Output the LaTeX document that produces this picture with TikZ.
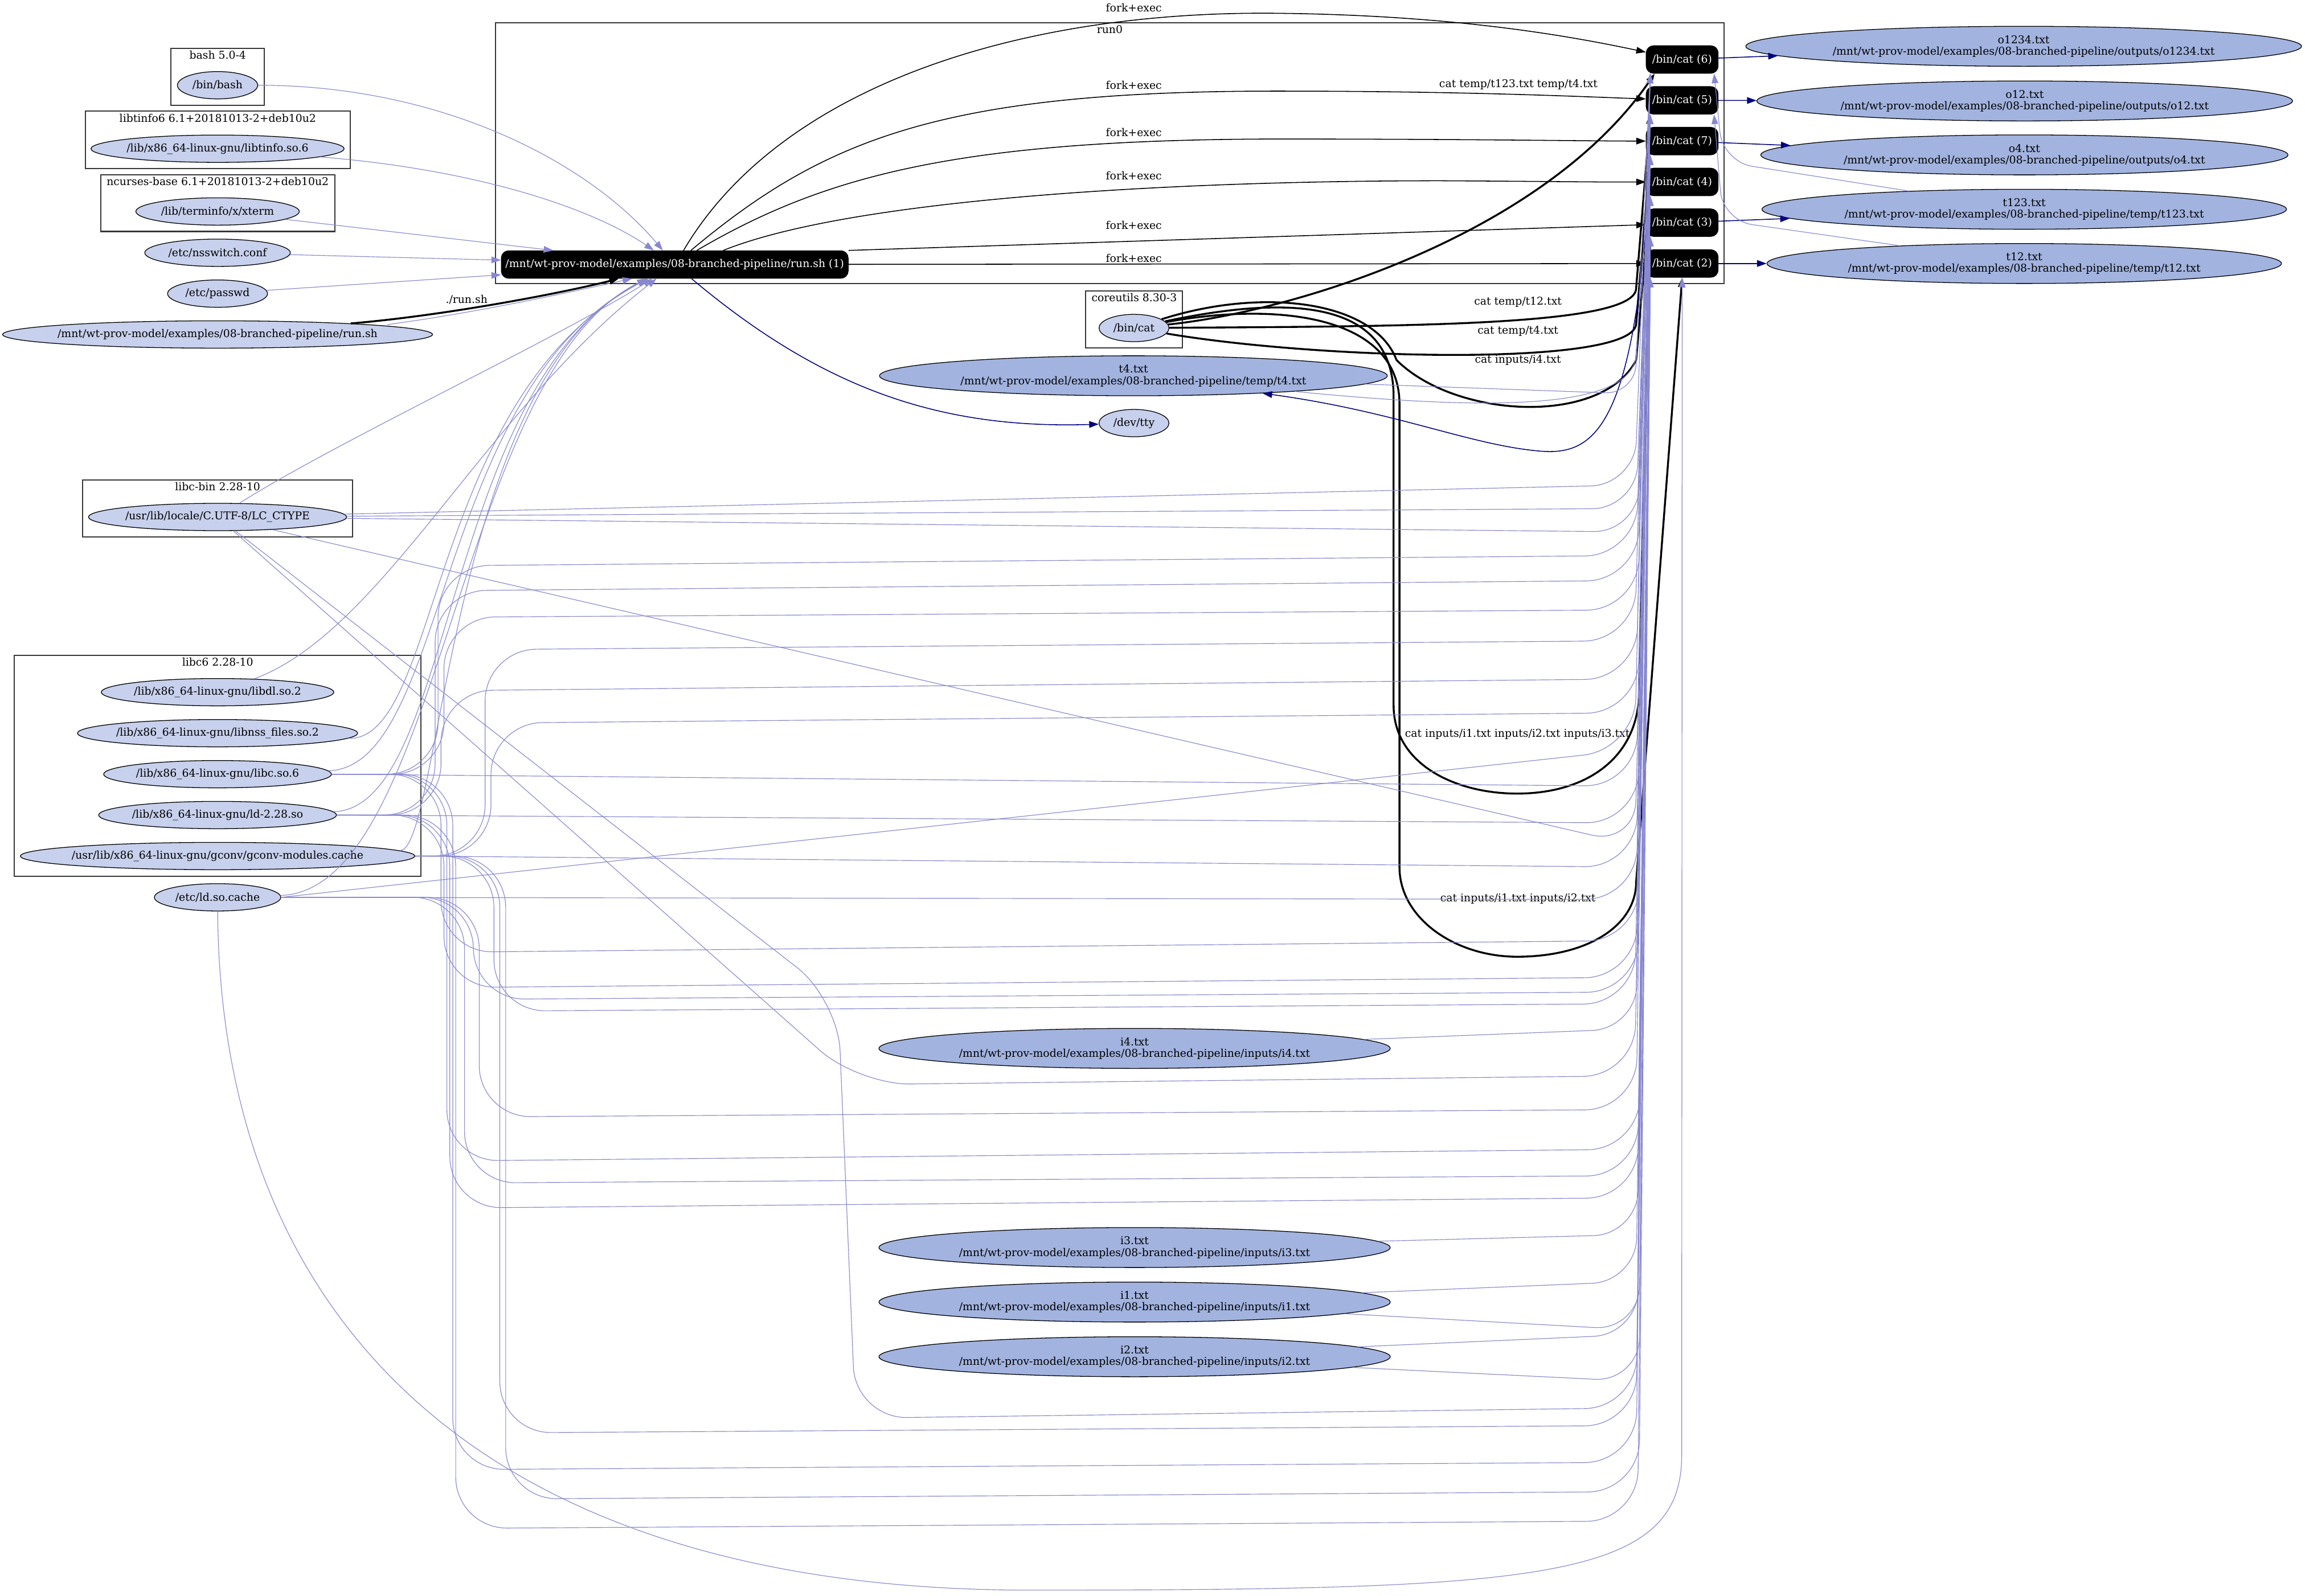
\documentclass[tikz,border=0pt]{standalone}
\usepackage{fontspec}
\setmainfont{DejaVu Serif}
\usepackage{xcolor}
\usepackage{tikz}
\usetikzlibrary{shapes.geometric, arrows.meta, positioning}
\definecolor{libblue}{RGB}{199,208,236}
\definecolor{fileblue}{RGB}{162,179,223}
\definecolor{useblue}{RGB}{136,136,208}
\definecolor{writenavy}{RGB}{0,0,128}
\definecolor{clustergray}{RGB}{55,55,55}
\newcommand{\gvfont}{\fontsize{7.3}{7.8}\selectfont}
\newcommand{\zw}[1]{\makebox[0pt]{#1}}
\tikzset{
  lib/.style={ellipse, draw, fill=libblue, inner sep=0pt, minimum height=18.6pt, line width=0.5pt, font=\gvfont},
  datafile/.style={ellipse, draw, fill=fileblue, inner sep=0pt, minimum height=27.2pt, line width=0.5pt, align=center, font=\gvfont},
  proc/.style={rectangle, rounded corners=5pt, draw=black, fill=black, text=white, inner sep=0pt, minimum width=49pt, minimum height=18.8pt, font=\gvfont},
  cluster/.style={rectangle, draw=clustergray, line width=0.8pt, inner sep=0pt},
  lbl/.style={inner sep=0pt, font=\gvfont},
  useedge/.style={draw=useblue, line width=0.45pt, -{Stealth[length=6.5pt, width=4.5pt, inset=0pt]}},
  writeedge/.style={draw=writenavy, line width=0.6pt, -{Stealth[length=6.5pt, width=4.5pt, inset=0pt]}},
  forkedge/.style={draw=black, line width=0.6pt, -{Stealth[length=6.5pt, width=4.5pt, inset=0pt]}},
  execedge/.style={draw=black, line width=1.3pt, -{Stealth[length=6.5pt, width=4.5pt, inset=0pt]}},
}
\begin{document}
\begin{tikzpicture}[x=1pt, y=-1pt]
\useasboundingbox (0,0) rectangle (1568,1086);
\node (run0box) [cluster, minimum width=835.8pt, minimum height=177.6pt] at (754.9,104.2) {};
\node (run0lbl) [lbl, below=2pt of run0box.north] {run0};
\node (bashbox) [cluster, minimum width=63.6pt, minimum height=38.9pt] at (148.1,52.35) {};
\node (bashlbl) [lbl, below=2pt of bashbox.north] {bash 5.0-4};
\node (tinfobox) [cluster, minimum width=179.9pt, minimum height=39.1pt] at (148.15,95.15) {};
\node (tinfolbl) [lbl, below=2pt of tinfobox.north] {libtinfo6 6.1+20181013-2+deb10u2};
\node (ncbox) [cluster, minimum width=159.4pt, minimum height=38.7pt] at (148.1,138.15) {};
\node (nclbl) [lbl, below=2pt of ncbox.north] {ncurses-base 6.1+20181013-2+deb10u2};
\node (corebox) [cluster, minimum width=65.9pt, minimum height=38.7pt] at (771.55,217.25) {};
\node (corelbl) [lbl, below=2pt of corebox.north] {coreutils 8.30-3};
\node (libcbinbox) [cluster, minimum width=183.5pt, minimum height=38.7pt] at (148.05,345.85) {};
\node (libcbinlbl) [lbl, below=2pt of libcbinbox.north] {libc-bin 2.28-10};
\node (libcsixbox) [cluster, minimum width=276.8pt, minimum height=150.3pt] at (148.1,521.05) {};
\node (libcsixlbl) [lbl, below=2pt of libcsixbox.north] {libc6 2.28-10};

\node (bash) [lib, minimum width=54.6pt] at (148,58) {\zw{/bin/bash}};
\node (tinfo) [lib, minimum width=172.2pt] at (148,101.2) {\zw{/lib/x86\_64-linux-gnu/libtinfo.so.6}};
\node (xterm) [lib, minimum width=111.2pt] at (148,143.9) {\zw{/lib/terminfo/x/xterm}};
\node (nss) [lib, minimum width=99pt] at (148,172) {\zw{/etc/nsswitch.conf}};
\node (passwd) [lib, minimum width=68pt] at (148,199.8) {\zw{/etc/passwd}};
\node (runfile) [lib, minimum width=292.4pt] at (148,227.6) {\zw{/mnt/wt-prov-model/examples/08-branched-pipeline/run.sh}};
\node (lctype) [lib, minimum width=175.6pt] at (148,351.8) {\zw{/usr/lib/locale/C.UTF-8/LC\_CTYPE}};
\node (libdl) [lib, minimum width=158.2pt] at (148,471) {\zw{/lib/x86\_64-linux-gnu/libdl.so.2}};
\node (libnss) [lib, minimum width=190.6pt] at (148,498.9) {\zw{/lib/x86\_64-linux-gnu/libnss\_files.so.2}};
\node (libc) [lib, minimum width=155pt] at (148,526.8) {\zw{/lib/x86\_64-linux-gnu/libc.so.6}};
\node (ld) [lib, minimum width=161.8pt] at (148,554.6) {\zw{/lib/x86\_64-linux-gnu/ld-2.28.so}};
\node (gconv) [lib, minimum width=268.4pt] at (148,582.5) {\zw{/usr/lib/x86\_64-linux-gnu/gconv/gconv-modules.cache}};
\node (ldcache) [lib, minimum width=86pt] at (148,610.6) {\zw{/etc/ld.so.cache}};
\node (bincat) [lib, minimum width=47.6pt] at (771.4,223.2) {\zw{/bin/cat}};
\node (tty) [lib, minimum width=47.6pt] at (771.4,287.9) {\zw{/dev/tty}};
\node (t4) [datafile, minimum width=345.4pt] at (771,255.7) {\zw{t4.txt}\\\zw{/mnt/wt-prov-model/examples/08-branched-pipeline/temp/t4.txt}};
\node (i4) [datafile, minimum width=347.8pt] at (771.8,713.4) {\zw{i4.txt}\\\zw{/mnt/wt-prov-model/examples/08-branched-pipeline/inputs/i4.txt}};
\node (i3) [datafile, minimum width=347.8pt] at (771.8,848.9) {\zw{i3.txt}\\\zw{/mnt/wt-prov-model/examples/08-branched-pipeline/inputs/i3.txt}};
\node (i1) [datafile, minimum width=347.8pt] at (771.8,886) {\zw{i1.txt}\\\zw{/mnt/wt-prov-model/examples/08-branched-pipeline/inputs/i1.txt}};
\node (i2) [datafile, minimum width=347.8pt] at (771.8,923.2) {\zw{i2.txt}\\\zw{/mnt/wt-prov-model/examples/08-branched-pipeline/inputs/i2.txt}};

\node (run) [proc, minimum width=236pt] at (459,180) {\zw{/mnt/wt-prov-model/examples/08-branched-pipeline/run.sh (1)}};
\node (cat6) [proc] at (1144.3,40.5) {\zw{/bin/cat (6)}};
\node (cat5) [proc] at (1144.3,68.3) {\zw{/bin/cat (5)}};
\node (cat7) [proc] at (1144.3,96) {\zw{/bin/cat (7)}};
\node (cat4) [proc] at (1144.3,123.8) {\zw{/bin/cat (4)}};
\node (cat3) [proc] at (1144.3,151.5) {\zw{/bin/cat (3)}};
\node (cat2) [proc] at (1144.3,179.3) {\zw{/bin/cat (2)}};

\node (o1234) [datafile, minimum width=378pt] at (1376.6,31.5) {\zw{o1234.txt}\\\zw{/mnt/wt-prov-model/examples/08-branched-pipeline/outputs/o1234.txt}};
\node (o12) [datafile, minimum width=364.4pt] at (1377.3,68.7) {\zw{o12.txt}\\\zw{/mnt/wt-prov-model/examples/08-branched-pipeline/outputs/o12.txt}};
\node (o4) [datafile, minimum width=358.6pt] at (1377.1,105.4) {\zw{o4.txt}\\\zw{/mnt/wt-prov-model/examples/08-branched-pipeline/outputs/o4.txt}};
\node (t123) [datafile, minimum width=356.8pt] at (1377,142.4) {\zw{t123.txt}\\\zw{/mnt/wt-prov-model/examples/08-branched-pipeline/temp/t123.txt}};
\node (t12) [datafile, minimum width=350pt] at (1377,179.3) {\zw{t12.txt}\\\zw{/mnt/wt-prov-model/examples/08-branched-pipeline/temp/t12.txt}};

\draw[useedge] (bash) .. controls (300,58) and (400,110) .. (run);
\draw[useedge] (tinfo) .. controls (320,115) and (400,140) .. (run);
\draw[useedge] (xterm) -- (run);
\draw[useedge] (nss) -- ([yshift=3pt]run.west);
\draw[useedge] (passwd) -- ([yshift=-7pt]run.west);
\draw[useedge] ([xshift=12pt]runfile.north east) .. controls (330,212) and (400,196) .. ([xshift=-29pt]run.south);
\draw[execedge] (runfile) .. controls (300,215) and (380,200) .. ([xshift=-38pt]run.south);
\node (runlbl) [lbl] at (317.4,203.7) {./run.sh};
\draw[useedge] (lctype) .. controls (230,300) and (380,230) .. (run);
\draw[useedge] (libdl) .. controls (260,430) and (330,280) .. (run);
\draw[useedge] (libnss) .. controls (300,505) and (290,270) .. (run);
\draw[useedge] (libc) .. controls (305,522) and (295,265) .. (run);
\draw[useedge] (ld) .. controls (310,550) and (300,262) .. (run);
\draw[useedge] (gconv) .. controls (300,578) and (305,258) .. (run);
\draw[useedge] (ldcache) .. controls (300,606) and (310,255) .. (run);
\draw[writeedge] (run) .. controls (560,265) and (640,292) .. (tty);

\draw[forkedge] ([xshift=6pt]run.north) .. controls (530,60) and (690,8) .. (864,9) .. controls (990,10) and (1070,25) .. ([yshift=5pt]cat6.west);
\draw[forkedge] ([xshift=11pt]run.north) .. controls (560,95) and (640,62) .. (868,62) .. controls (1000,62) and (1080,66) .. ([yshift=1pt]cat5.west);
\draw[forkedge] ([xshift=15pt]run.north) .. controls (560,120) and (650,95) .. (868,94.6) .. controls (1000,94.6) and (1080,96) .. (cat7.west);
\draw[forkedge] ([xshift=33pt]run.north) .. controls (580,135) and (800,123) .. (980,123) .. controls (1050,123.4) and (1090,124) .. (cat4.west);
\draw[forkedge] (run.north east) -- ([yshift=-1.4pt]cat3.west);
\draw[forkedge] (run) -- (cat2);
\node (lfork6) [lbl] at (771.3,5.4) {fork+exec};
\node (lfork5) [lbl] at (771.3,58.1) {fork+exec};
\node (lfork7) [lbl] at (771.3,90) {fork+exec};
\node (lfork4) [lbl] at (771.3,119.7) {fork+exec};
\node (lfork3) [lbl] at (771.3,153.3) {fork+exec};
\node (lfork2) [lbl] at (771.3,175.7) {fork+exec};

\draw[execedge] (bincat) .. controls (880,212) and (1050,160) .. ([xshift=6pt]cat6.south west);
\draw[execedge] (bincat) .. controls (960,222) and (1113,222) .. (1113,196) -- ([xshift=3pt]cat5.south west);
\draw[execedge] (bincat) .. controls (900,245) and (1113,250) .. (1113,220) -- ([xshift=3pt]cat7.south west);
\draw[execedge] (bincat) .. controls (860,195) and (935,205) .. (950,245) .. controls (990,285) and (1090,290) .. (1113,245) -- ([xshift=3pt]cat4.south west);
\draw[execedge] (bincat) .. controls (880,200) and (948,205) .. (948,270) -- (948,480) .. controls (948,520) and (990,540) .. (1032,540) .. controls (1080,540) and (1115,515) .. (1115,470) -- ([xshift=3pt]cat3.south west);
\draw[execedge] (bincat) .. controls (870,205) and (952,215) .. (952,275) -- (952,590) .. controls (952,625) and (990,651) .. (1032,651) .. controls (1080,651) and (1113,630) .. (1113,600) -- (cat2.south);
\node (lt1234) [lbl] at (1032.9,57.7) {cat temp/t123.txt temp/t4.txt};
\node (lt12) [lbl] at (1032.6,205.6) {cat temp/t12.txt};
\node (lt4) [lbl] at (1032.6,225.3) {cat temp/t4.txt};
\node (li4) [lbl] at (1032.6,245.1) {cat inputs/i4.txt};
\node (li123) [lbl] at (1032.2,499.7) {cat inputs/i1.txt inputs/i2.txt inputs/i3.txt};
\node (li12) [lbl] at (1032.6,611.5) {cat inputs/i1.txt inputs/i2.txt};

\draw[writeedge] (cat6) -- (o1234);
\draw[writeedge] (cat5) -- (o12);
\draw[writeedge] (cat7) -- (o4);
\draw[writeedge] (cat3) -- (t123);
\draw[writeedge] (cat2) -- (t12);
\draw[writeedge] ([xshift=2pt]cat4.south west) .. controls (1110,290) and (1085,310) .. (1048,307) .. controls (1000,303) and (950,280) .. (t4);

\draw[useedge, rounded corners=30pt] (lctype) -- (1112,330) -- ([xshift=3pt]cat6.south west);
\draw[useedge, rounded corners=30pt] (lctype) -- (1113,346) -- ([xshift=3pt]cat5.south west);
\draw[useedge, rounded corners=30pt] (lctype) -- (1114,362) -- ([xshift=3pt]cat7.south west);
\draw[useedge, rounded corners=35pt] (lctype) -- (584,738) -- (1112,732) -- ([xshift=3pt]cat4.south west);
\draw[useedge, rounded corners=35pt] (lctype) -- (570,680) -- (582,965) -- (1113,958) -- ([xshift=3pt]cat3.south west);
\draw[useedge, rounded corners=30pt] (lctype) -- (1112,575) -- ([xshift=3pt]cat2.south west);

\draw[useedge, rounded corners=35pt] (libc.east) -| (298,385) -- (1113,378) -- ([xshift=3pt]cat6.south west);
\draw[useedge, rounded corners=35pt] (libc.east) -| (302,420) -- (1114,415) -- ([xshift=3pt]cat5.south west);
\draw[useedge, rounded corners=35pt] (libc.east) -- (1113,535) -- ([xshift=3pt]cat7.south west);
\draw[useedge, rounded corners=35pt] (libc.east) -| (300,648) -- (1114,640) -- ([xshift=3pt]cat4.south west);
\draw[useedge, rounded corners=35pt] (libc.east) -| (304,790) -- (1115,782) -- ([xshift=3pt]cat3.south west);
\draw[useedge, rounded corners=35pt] (libc.east) -| (308,1000) -- (1113,995) -- ([xshift=3pt]cat2.south west);

\draw[useedge, rounded corners=35pt] (ld.east) -| (296,402) -- (1114,395) -- ([xshift=3pt]cat6.south west);
\draw[useedge, rounded corners=35pt] (ld.east) -| (300,470) -- (1113,462) -- ([xshift=3pt]cat5.south west);
\draw[useedge, rounded corners=35pt] (ld.east) -- (1114,560) -- ([xshift=3pt]cat7.south west);
\draw[useedge, rounded corners=35pt] (ld.east) -| (302,672) -- (1113,665) -- ([xshift=3pt]cat4.south west);
\draw[useedge, rounded corners=35pt] (ld.east) -| (306,822) -- (1114,815) -- ([xshift=3pt]cat3.south west);
\draw[useedge, rounded corners=35pt] (ld.east) -| (310,1040) -- (1114,1035) -- ([xshift=3pt]cat2.south west);

\draw[useedge, rounded corners=35pt] (gconv.east) -| (330,442) -- (1112,436) -- ([xshift=3pt]cat6.south west);
\draw[useedge, rounded corners=35pt] (gconv.east) -| (334,492) -- (1114,485) -- ([xshift=3pt]cat5.south west);
\draw[useedge, rounded corners=35pt] (gconv.east) -- (1113,590) -- ([xshift=3pt]cat7.south west);
\draw[useedge, rounded corners=35pt] (gconv.east) -| (336,688) -- (1112,683) -- ([xshift=3pt]cat4.south west);
\draw[useedge, rounded corners=35pt] (gconv.east) -| (340,975) -- (1113,970) -- ([xshift=3pt]cat3.south west);
\draw[useedge, rounded corners=35pt] (gconv.east) -| (344,1020) -- (1115,1015) -- ([xshift=3pt]cat2.south west);

\draw[useedge, rounded corners=35pt] (ldcache.east) -- (1112,510) -- ([xshift=3pt]cat6.south west);
\draw[useedge, rounded corners=35pt] (ldcache.east) -- (1113,612) -- ([xshift=3pt]cat5.south west);
\draw[useedge, rounded corners=35pt] (ldcache.east) -| (322,680) -- (1114,675) -- ([xshift=3pt]cat7.south west);
\draw[useedge, rounded corners=35pt] (ldcache.east) -| (326,760) -- (1113,755) -- ([xshift=3pt]cat4.south west);
\draw[useedge, rounded corners=35pt] (ldcache.east) -| (316,805) -- (1114,800) -- ([xshift=3pt]cat3.south west);
\draw[useedge] (ldcache) .. controls (150,900) and (330,1082) .. (700,1082) .. controls (1050,1082) and (1144,1075) .. (1144,990) -- (cat2);

\draw[useedge, rounded corners=20pt] (t4) -- (1112,268) -- ([xshift=3pt]cat6.south west);
\draw[useedge] (t4) .. controls (1000,278) and (1113,282) .. (1113,240) -- ([xshift=3pt]cat7.south west);
\draw[useedge, rounded corners=20pt] (t123) -- (1172,110) -- ([xshift=-3pt]cat6.south east);
\draw[useedge, rounded corners=20pt] (t12) -- (1172,150) -- ([xshift=-3pt]cat5.south east);
\draw[useedge, rounded corners=30pt] (i4) -- (1113,700) -- ([xshift=3pt]cat4.south west);
\draw[useedge, rounded corners=30pt] (i3) -- (1114,840) -- ([xshift=3pt]cat3.south west);
\draw[useedge, rounded corners=30pt] (i1) -- (1113,872) -- ([xshift=3pt]cat3.south west);
\draw[useedge, rounded corners=30pt] (i2) -- (1114,908) -- ([xshift=3pt]cat3.south west);
\draw[useedge, rounded corners=30pt] (i1) -- (1115,905) -- ([xshift=3pt]cat2.south west);
\draw[useedge, rounded corners=30pt] (i2) -- (1115,940) -- ([xshift=3pt]cat2.south west);
\end{tikzpicture}
\end{document}
